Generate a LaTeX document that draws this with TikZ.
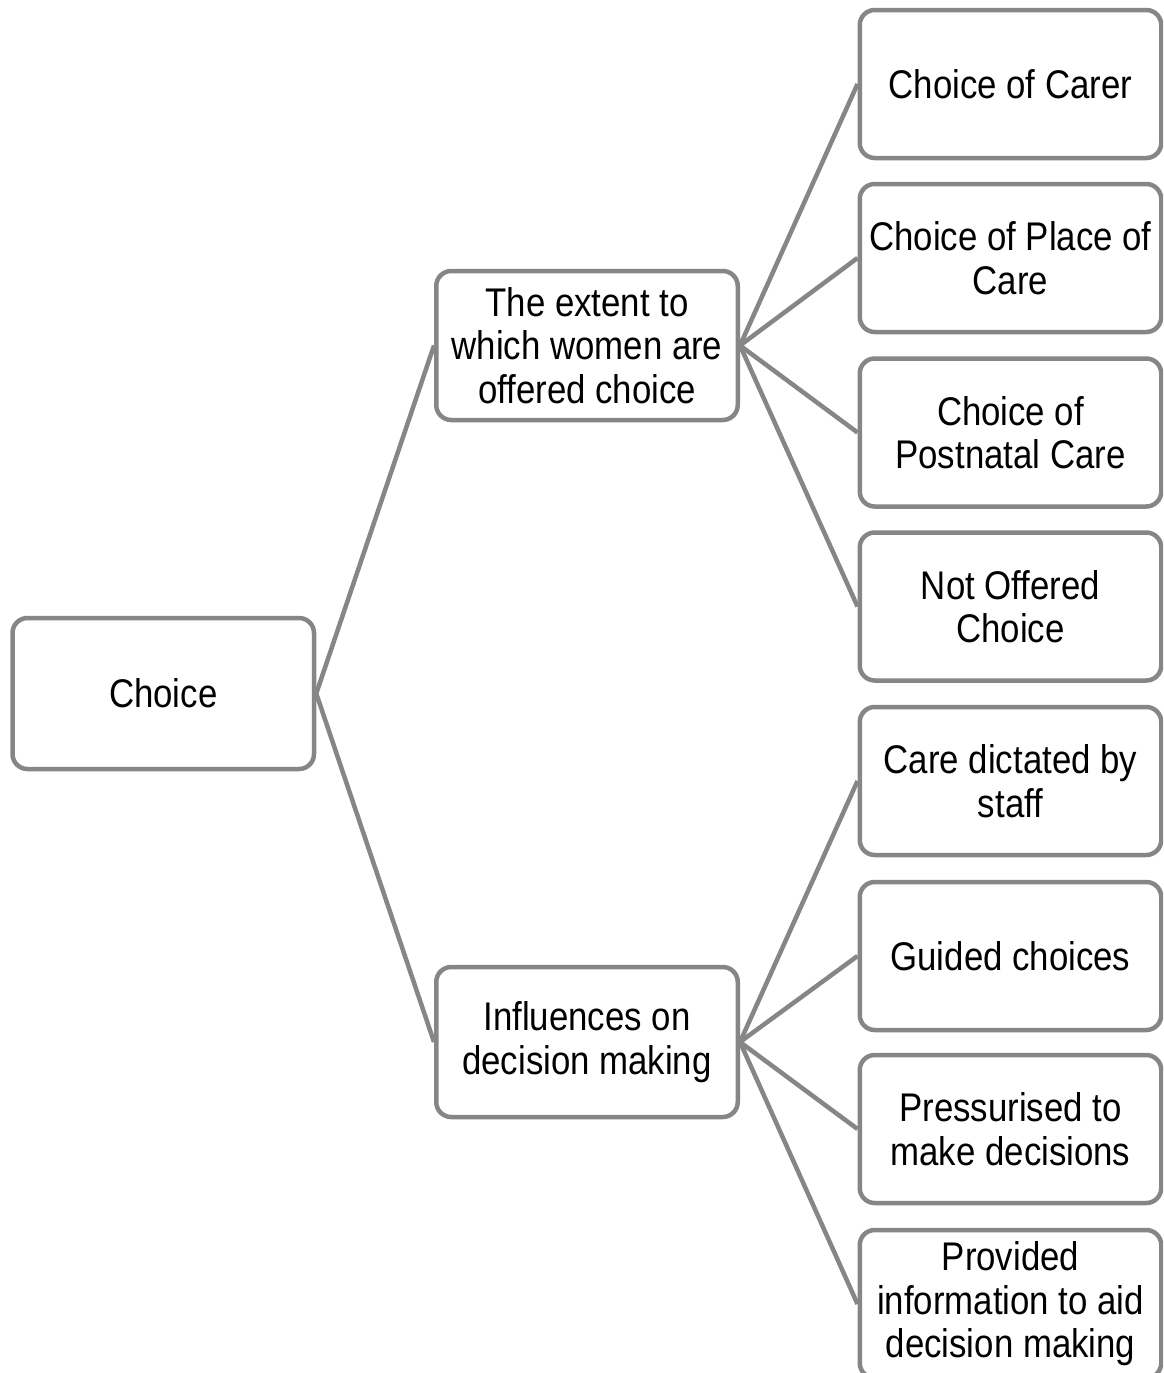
\documentclass[tikz,border=0pt]{standalone}
\usepackage{fontspec}
\setmainfont[FakeStretch=0.87]{Liberation Sans}
\definecolor{boxgray}{RGB}{134,134,134}
\begin{document}
\begin{tikzpicture}[x=1pt,y=-1pt,
  box/.style={draw=boxgray, line width=4.5pt, rounded corners=15pt, fill=white,
    minimum width=301.5pt, minimum height=149pt, inner sep=0pt, align=center,
    font=\fontsize{40}{43.5}\selectfont},
  link/.style={draw=boxgray, line width=4.5pt}]
\clip (0,0) rectangle (1163,1373);
\useasboundingbox (0,0) rectangle (1163,1373);
\fill[white] (0,0) rectangle (1163,1373);

\node[box, minimum height=151pt] (root) at (163.25,693.5) {Choice};
\node[box] (m1) at (587,345.5) {The extent to\\which women are\\offered choice};
\node[box, minimum height=150pt] (m2) at (587,1042) {Influences on\\decision making};

\node[box, minimum height=148pt] (l1) at (1010.5,84) {Choice of Carer};
\node[box, minimum height=148pt] (l2) at (1010.5,258) {Choice of Place of\\Care};
\node[box, minimum height=148pt] (l3) at (1010.5,432.5) {Choice of\\Postnatal Care};
\node[box, minimum height=148pt] (l4) at (1010.5,606.5) {Not Offered\\Choice};
\node[box, minimum height=148pt] (l5) at (1010.5,781) {Care dictated by\\staff};
\node[box, minimum height=148pt] (l6) at (1010.5,956) {Guided choices};
\node[box, minimum height=148pt] (l7) at (1010.5,1129) {Pressurised to\\make decisions};
\node[box, minimum height=148pt] (l8) at (1010.5,1304) {Provided\\information to aid\\decision making};

\draw[link] (root.east) -- (m1.west);
\draw[link] (root.east) -- (m2.west);
\foreach \l in {l1,l2,l3,l4} \draw[link] (m1.east) -- (\l.west);
\foreach \l in {l5,l6,l7,l8} \draw[link] (m2.east) -- (\l.west);
\end{tikzpicture}
\end{document}
